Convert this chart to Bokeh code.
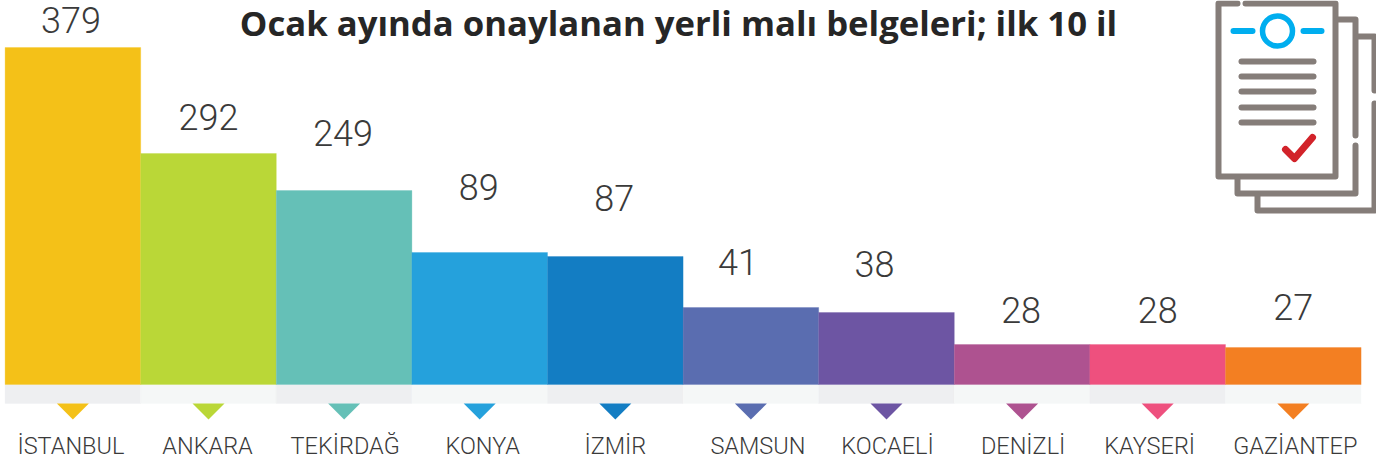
from bokeh.plotting import figure
from bokeh.models import Range1d, LinearScale, ColumnDataSource
from bokeh.core.properties import value
from bokeh.embed import file_html
from bokeh.resources import INLINE

cities = ["İSTANBUL", "ANKARA", "TEKİRDAĞ", "KONYA", "İZMİR", "SAMSUN", "KOCAELİ", "DENİZLİ", "KAYSERİ", "GAZİANTEP"]
counts = [379, 292, 249, 89, 87, 41, 38, 28, 28, 27]
# The infographic's bars are not proportional to the printed figures: heights as drawn
drawn_heights = [337, 231, 194, 132, 128, 77, 72, 40, 40, 37]
label_gaps = [28, 37, 58, 66, 59, 46, 49, 35, 35, 41]
label_shift = [-2, 0, -1, -1, -1, -13, -12, -1, 0, 0]
city_shift = [-2, -1, 1, 3, 0, 7, 1, 1, -8, 2]
colors = ["#F4C118", "#BAD737", "#65C0B7", "#25A1DC", "#137DC3", "#5A6DB0", "#6D55A3", "#AE5290", "#EE507E", "#F37F22"]
strip_colors = ["#EEEFF1", "#F5F7F7"]
title = "Ocak ayında onaylanan yerli malı belgeleri; ilk 10 il"

W, H = 1376, 462
STEP = 135.6
LEFT = 4.6
BASE = 384
x_range = Range1d(-0.5 - LEFT / STEP, -0.5 + (W - LEFT) / STEP)
y_range = Range1d(BASE - H, BASE)

p = figure(width=W, height=H, x_range=x_range, y_range=y_range, output_backend="svg",
           toolbar_location=None, x_axis_type=None, y_axis_type=None,
           min_border=0, outline_line_color=None)
p.grid.visible = False
p.background_fill_color = "white"
p.extra_x_ranges = {"px": Range1d(0, W)}
p.extra_y_ranges = {"px": Range1d(H, 0)}
p.extra_x_scales = {"px": LinearScale()}
p.extra_y_scales = {"px": LinearScale()}

idx = list(range(len(cities)))
src = ColumnDataSource(dict(
    x=idx, h=drawn_heights, color=colors,
    city=cities, label=[str(c) for c in counts],
    label_x=[i + s / STEP for i, s in zip(idx, label_shift)],
    label_y=[h + g for h, g in zip(drawn_heights, label_gaps)],
    city_x=[i + s / STEP for i, s in zip(idx, city_shift)],
    strip=[strip_colors[i % 2] for i in idx],
    city_y=[-61] * len(idx),
))
p.vbar(x="x", bottom=-19, top=0, width=1, fill_color="strip", line_color="strip", line_width=0.3, source=src)
p.vbar(x="x", bottom=0, top="h", width=1, fill_color="color", line_color="color", line_width=0.3, source=src)
hw = 16 / STEP
p.patches(xs=[[i - hw, i + hw, i] for i in idx], ys=[[-19, -19, -35] for _ in idx],
          fill_color=colors, line_color=None)
p.text(x="label_x", y="label_y", text="label", source=src, text_align="center", text_baseline="middle",
       text_font=value("Roboto Light"), text_font_size="36px", text_color="#3A3A3A")
p.text(x="city_x", y="city_y", text="city", source=src, text_align="center", text_baseline="middle",
       text_font=value("Roboto Light"), text_font_size="23.5px", text_color="#3A3A3A")
p.text(x=[678], y=[22], text=[title], x_range_name="px", y_range_name="px",
       text_align="center", text_baseline="middle", text_font=value("Open Sans"),
       text_font_style="bold", text_font_size="34.7px", text_color="#262626")

GREY, BLUE, RED = "#857D79", "#00AEEF", "#D2232A"
def stroke(xs, ys, color=GREY, w=6):
    p.line(xs, ys, x_range_name="px", y_range_name="px", line_color=color, line_width=w,
           line_cap="round", line_join="round")

# Document icon
stroke([1245, 1335, 1335, 1218, 1218, 1237], [3, 3, 176, 176, 3, 3])
stroke([1337, 1355, 1355], [19, 19, 135])
stroke([1355, 1355, 1237, 1237], [145, 193, 193, 178])
stroke([1357, 1374, 1374], [36, 36, 90])
stroke([1374, 1374, 1257, 1257], [103, 210, 210, 195])
for y in [61, 76, 91, 107, 122]:
    stroke([1241, 1313], [y, y])
stroke([1233, 1252], [30.5, 30.5], BLUE)
stroke([1303, 1321], [30.5, 30.5], BLUE)
p.circle(x=[1277], y=[30.5], radius=15, x_range_name="px", y_range_name="px",
         fill_color=None, line_color=BLUE, line_width=5.5)
stroke([1285, 1294, 1312], [149, 158, 137], RED, 7)

open("out.html", "w").write(file_html(p, INLINE))
